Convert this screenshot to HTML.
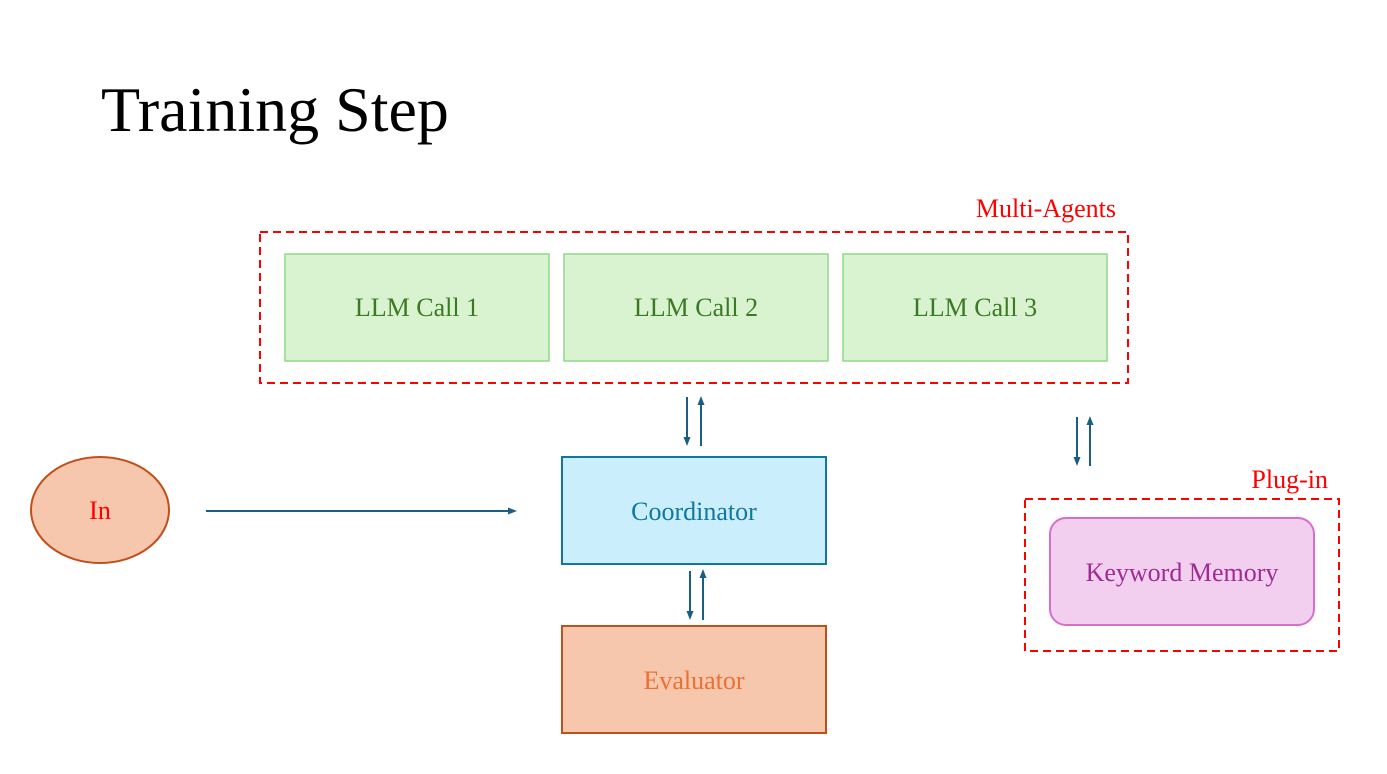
<!DOCTYPE html>
<html><head><meta charset="utf-8"><style>
html,body{margin:0;padding:0;background:#fff;}
svg{display:block}
text{font-family:"Liberation Serif",serif;}
</style></head><body>
<svg width="1387" height="774" viewBox="0 0 1387 774" xmlns="http://www.w3.org/2000/svg">
<defs>
<marker id="a" markerWidth="9" markerHeight="9" refX="5" refY="4.5" orient="auto" markerUnits="userSpaceOnUse">
<path d="M0,1 L9,4.5 L0,8 Z" fill="#1a5f82"/></marker>
</defs>
<text x="101" y="131" font-size="64" fill="#000">Training Step</text>
<text x="1116" y="217" font-size="26" fill="#ff0000" text-anchor="end">Multi-Agents</text>
<rect x="260" y="232" width="868" height="151" fill="none" stroke="#ff0000" stroke-width="2" stroke-dasharray="8,5"/>
<g fill="#d9f2d0" stroke="#8fd98a" stroke-width="1.5">
<rect x="285" y="254" width="264" height="107"/>
<rect x="564" y="254" width="264" height="107"/>
<rect x="843" y="254" width="264" height="107"/>
</g>
<g font-size="26" fill="#3a7a22" text-anchor="middle">
<text x="417" y="316">LLM Call 1</text>
<text x="696" y="316">LLM Call 2</text>
<text x="975" y="316">LLM Call 3</text>
</g>
<ellipse cx="100" cy="510" rx="69" ry="53" fill="#f6c6ad" stroke="#c0501a" stroke-width="2"/>
<text x="100" y="519" font-size="26" fill="#ff0000" text-anchor="middle">In</text>
<g stroke="#1a5f82" stroke-width="2">
<line x1="206" y1="511" x2="513" y2="511" marker-end="url(#a)"/>
<line x1="687" y1="397" x2="687" y2="442" marker-end="url(#a)"/>
<line x1="701" y1="446" x2="701" y2="400" marker-end="url(#a)"/>
<line x1="690" y1="571" x2="690" y2="616" marker-end="url(#a)"/>
<line x1="703" y1="620" x2="703" y2="573" marker-end="url(#a)"/>
<line x1="1077" y1="417" x2="1077" y2="462" marker-end="url(#a)"/>
<line x1="1090" y1="466" x2="1090" y2="420" marker-end="url(#a)"/>
</g>
<rect x="562" y="457" width="264" height="107" fill="#caeefb" stroke="#10789f" stroke-width="2"/>
<text x="694" y="520" font-size="26" fill="#10789f" text-anchor="middle">Coordinator</text>
<rect x="562" y="626" width="264" height="107" fill="#f6c6ad" stroke="#c0501a" stroke-width="2"/>
<text x="694" y="689" font-size="26" fill="#e97132" text-anchor="middle">Evaluator</text>
<text x="1328" y="488" font-size="26" fill="#ff0000" text-anchor="end">Plug-in</text>
<rect x="1025" y="499" width="314" height="152" fill="none" stroke="#ff0000" stroke-width="2" stroke-dasharray="8,5"/>
<rect x="1050" y="518" width="264" height="107" rx="16" fill="#f2cfee" stroke="#d86ecc" stroke-width="2"/>
<text x="1182" y="581" font-size="26" fill="#a02b93" text-anchor="middle">Keyword Memory</text>
</svg>
</body></html>
